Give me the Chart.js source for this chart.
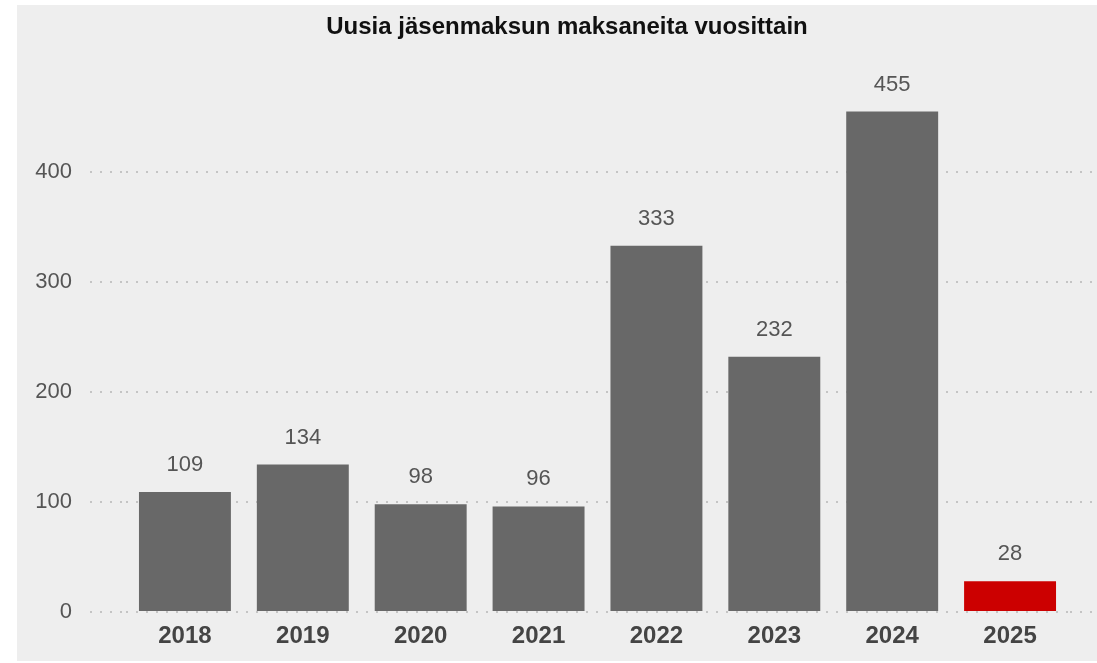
<!DOCTYPE html>
<html>
<head>
<meta charset="utf-8">
<script src="https://cdn.jsdelivr.net/npm/chart.js@4.4.1/dist/chart.umd.min.js"></script>
<style>
    html, body { margin: 0; padding: 0; background: #ffffff; }
    #panel { position: absolute; left: 17px; top: 5px; width: 1080px; height: 656px; background: #eeeeee; }
    #wrap { position: absolute; left: 0; top: 0; width: 1097px; height: 663px; }
</style>
</head>
<body>
<div id="panel"></div>
<div id="wrap"><canvas id="memberChart" width="1097" height="663"></canvas></div>
<script>
// 연도별 데이터
const years = ['2018', '2019', '2020', '2021', '2022', '2023', '2024', '2025'];
const newMembers = [109, 134, 98, 96, 333, 232, 455, 28];
const barColors = ['#686868', '#686868', '#686868', '#686868', '#686868', '#686868', '#686868', '#cc0000'];
const yTicks = [0, 100, 200, 300, 400];
const chartTitle = 'Uusia jäsenmaksun maksaneita vuosittain';

// 막대 위에 값 표시 + 제목 + 눈금선 오른쪽 연장
const valueLabels = {
    id: 'valueLabels',
    beforeDatasetsDraw(chart) {
        const ctx = chart.ctx;
        const y = chart.scales.y;
        ctx.save();
        ctx.strokeStyle = '#c4c4c4';
        ctx.lineWidth = 2;
        ctx.setLineDash([2, 8]);
        y.ticks.forEach(t => {
            const py = Math.round(y.getPixelForValue(t.value));
            ctx.beginPath();
            ctx.moveTo(chart.chartArea.right + 1, py);
            ctx.lineTo(1095, py);
            ctx.stroke();
        });
        ctx.restore();
    },
    afterDatasetsDraw(chart) {
        const ctx = chart.ctx;
        const meta = chart.getDatasetMeta(0);
        ctx.save();
        ctx.font = '22px "Liberation Sans", Arial, sans-serif';
        ctx.fillStyle = '#555555';
        ctx.textAlign = 'center';
        ctx.textBaseline = 'bottom';
        meta.data.forEach((bar, i) => {
            ctx.fillText(newMembers[i], bar.x, bar.y - 16);
        });

        // 제목
        ctx.font = 'bold 24px "Liberation Sans", Arial, sans-serif';
        ctx.fillStyle = '#111111';
        ctx.textBaseline = 'middle';
        ctx.fillText(chartTitle, 567, 27);
        ctx.restore();
    }
};

new Chart(document.getElementById('memberChart'), {
    type: 'bar',
    data: {
        labels: years,
        datasets: [{
            data: newMembers,
            backgroundColor: barColors,
            borderWidth: 0,
            categoryPercentage: 1,
            barPercentage: 0.78
        }]
    },
    options: {
        responsive: false,
        animation: false,
        layout: { padding: { left: 0, right: 28, top: 62, bottom: 0 } },
        plugins: {
            legend: { display: false },
            tooltip: { enabled: false },
            title: { display: false }
        },
        scales: {
            x: {
                grid: { display: false, drawTicks: false },
                border: { display: false },
                ticks: {
                    color: '#444444',
                    padding: 10,
                    font: { family: '"Liberation Sans", Arial, sans-serif', size: 24, weight: 'bold' }
                },
                afterFit: s => { s.height = 51; }
            },
            y: {
                min: 0,
                max: 500,
                afterBuildTicks: s => { s.ticks = yTicks.map(v => ({ value: v })); },
                grid: {
                    color: '#c4c4c4',
                    lineWidth: 2,
                    drawTicks: true,
                    tickLength: 36,
                    tickColor: '#c4c4c4',
                    tickWidth: 2,
                    tickBorderDash: [2, 8]
                },
                border: { display: false, dash: [2, 8] },
                ticks: {
                    color: '#555555',
                    padding: 18,
                    font: { family: '"Liberation Sans", Arial, sans-serif', size: 22 }
                },
                afterFit: s => { s.width = 126; }
            }
        }
    },
    plugins: [valueLabels]
});
</script>
</body>
</html>
